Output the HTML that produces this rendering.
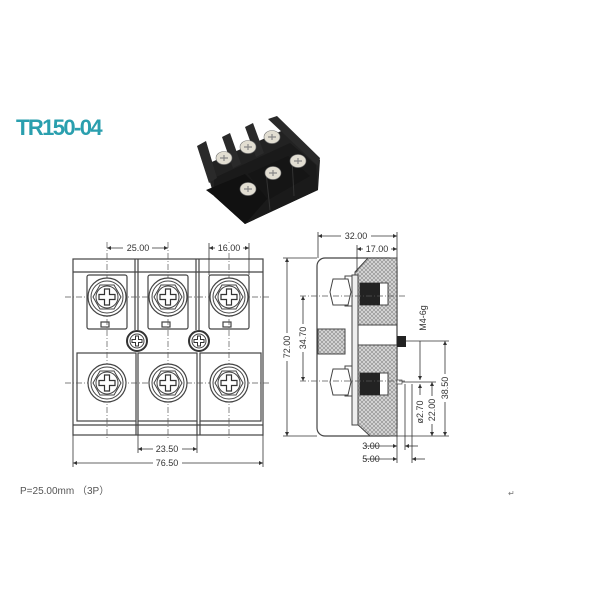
<!DOCTYPE html>
<html><head><meta charset="utf-8"><style>
html,body{margin:0;padding:0;background:#fff;width:600px;height:600px;overflow:hidden}
svg{display:block}
text{font-family:"Liberation Sans",sans-serif;fill:#333}
</style></head><body>
<svg width="600" height="600" viewBox="0 0 600 600" xmlns="http://www.w3.org/2000/svg">
<defs>
<pattern id="h" width="4" height="4" patternUnits="userSpaceOnUse">
<rect width="4" height="4" fill="#d8d8d8"/><path d="M0 0L4 4M4 0L0 4" stroke="#888" stroke-width="0.6"/>
</pattern>
<marker id="a" viewBox="0 0 6 6" refX="6" refY="3" markerWidth="5" markerHeight="5" orient="auto-start-reverse"><path d="M0 0L6 3L0 6z" fill="#333"/></marker>
<g id="scr">
<circle r="19" fill="#fff" stroke="#444" stroke-width="1.2"/>
<circle r="16" fill="none" stroke="#444" stroke-width="1"/>
<polygon points="14,0 7,12 -7,12 -14,0 -7,-12 7,-12" fill="none" stroke="#444" stroke-width="1"/>
<circle r="11" fill="none" stroke="#444" stroke-width="1"/>
<path d="M-2.5 -8h5v5.5h5.5v5h-5.5v5.5h-5v-5.5h-5.5v-5h5.5z" fill="#fff" stroke="#333" stroke-width="1.2"/>
</g>
<g id="sm">
<circle r="10" fill="#fff" stroke="#333" stroke-width="2"/>
<circle r="7" fill="none" stroke="#444" stroke-width="1"/>
<path d="M-1.5 -5h3v3.5h3.5v3h-3.5v3.5h-3v-3.5h-3.5v-3h3.5z" fill="#fff" stroke="#333" stroke-width="1"/>
</g>
<g id="ps">
<ellipse rx="8" ry="6.5" fill="#e2ded2" stroke="#777" stroke-width="0.6"/>
<path d="M-4 0h8M0 -3v6" stroke="#888" stroke-width="1.2"/>
</g>
</defs>

<text x="16" y="135" font-size="22" font-weight="bold" style="fill:#2a9fae;letter-spacing:-1.6px">TR150-04</text>

<!-- photo -->
<polygon points="205,165 288,128 320,160 318,190 245,224 214,196" fill="#222"/>
<polygon points="214,178 290,143 316,165 318,190 245,224 214,196" fill="#1a1a1a"/>
<polygon points="197,146 206,141 217,178 209,183" fill="#2a2a2a"/>
<polygon points="222,137 230,133 241,164 233,168" fill="#2a2a2a"/>
<polygon points="245,127 253,123 264,153 256,157" fill="#2a2a2a"/>
<polygon points="268,119 277,116 320,158 318,166" fill="#2a2a2a"/>
<polygon points="206,190 245,174 268,198 245,224 214,196" fill="#111"/>
<polygon points="248,174 288,156 310,176 268,200" fill="#151515"/>
<line x1="266" y1="172" x2="270" y2="210" stroke="#333" stroke-width="1"/>
<line x1="292" y1="160" x2="294" y2="196" stroke="#333" stroke-width="1"/>
<use href="#ps" x="224" y="158"/><use href="#ps" x="248" y="147"/><use href="#ps" x="272" y="137"/>
<use href="#ps" x="248" y="189"/><use href="#ps" x="273" y="173"/><use href="#ps" x="298" y="161"/>

<!-- front view -->
<g stroke="#444" stroke-width="1.2" fill="none">
<rect x="73" y="259" width="190" height="176" fill="#fff"/>
<line x1="73" y1="272" x2="263" y2="272"/>
<line x1="73" y1="425" x2="263" y2="425"/>
<line x1="135" y1="259" x2="135" y2="330"/><line x1="138" y1="259" x2="138" y2="330"/>
<line x1="196" y1="259" x2="196" y2="330"/><line x1="199" y1="259" x2="199" y2="330"/>
<rect x="87" y="275" width="40" height="54" rx="2"/>
<rect x="148" y="275" width="40" height="54" rx="2"/>
<rect x="209" y="275" width="40" height="54" rx="2"/>
<rect x="101" y="322" width="8" height="5"/><rect x="162" y="322" width="8" height="5"/><rect x="223" y="322" width="8" height="5"/>
<rect x="77" y="353" width="59" height="68"/>
<rect x="138" y="353" width="59" height="68"/>
<rect x="200" y="353" width="61" height="68"/>
<line x1="136" y1="421" x2="136" y2="435"/><line x1="138" y1="421" x2="138" y2="435"/>
<line x1="197" y1="421" x2="197" y2="435"/><line x1="200" y1="421" x2="200" y2="435"/>
</g>
<g stroke="#555" stroke-width="0.7" stroke-dasharray="6,2,1,2">
<line x1="65" y1="297" x2="270" y2="297"/><line x1="65" y1="383" x2="270" y2="383"/>
<line x1="107" y1="242" x2="107" y2="440"/><line x1="168" y1="242" x2="168" y2="440"/><line x1="229" y1="242" x2="229" y2="440"/>
</g>
<use href="#scr" x="107" y="297"/><use href="#scr" x="168" y="297"/><use href="#scr" x="229" y="297"/>
<use href="#scr" x="107" y="383"/><use href="#scr" x="168" y="383"/><use href="#scr" x="229" y="383"/>
<use href="#sm" x="137" y="341"/><use href="#sm" x="199" y="341"/>
<g stroke="#333" stroke-width="0.8" fill="none">
<line x1="107" y1="248" x2="168" y2="248" marker-start="url(#a)" marker-end="url(#a)"/>
<line x1="209" y1="243" x2="209" y2="275"/><line x1="249" y1="243" x2="249" y2="275"/>
<line x1="209" y1="248" x2="249" y2="248" marker-start="url(#a)" marker-end="url(#a)"/>
<line x1="138" y1="435" x2="138" y2="453"/><line x1="197" y1="435" x2="197" y2="453"/>
<line x1="138" y1="449" x2="197" y2="449" marker-start="url(#a)" marker-end="url(#a)"/>
<line x1="73" y1="435" x2="73" y2="467"/><line x1="263" y1="435" x2="263" y2="467"/>
<line x1="73" y1="463" x2="263" y2="463" marker-start="url(#a)" marker-end="url(#a)"/>
</g>
<g font-size="9" text-anchor="middle">
<rect x="123" y="243" width="29" height="9" fill="#fff"/><text x="138" y="251">25.00</text>
<rect x="215" y="243" width="28" height="9" fill="#fff"/><text x="229" y="251">16.00</text>
<rect x="153" y="444" width="29" height="9" fill="#fff"/><text x="167" y="452">23.50</text>
<rect x="153" y="458" width="29" height="9" fill="#fff"/><text x="167" y="466">76.50</text>
</g>

<!-- side view -->
<rect x="317" y="258" width="80" height="178" rx="8" fill="#fff" stroke="#444" stroke-width="1.2"/>
<polygon points="355,272 368,258 397,258 397,325 355,325" fill="url(#h)" stroke="#444"/>
<polygon points="355,345 397,345 397,436 370,436 355,422" fill="url(#h)" stroke="#444"/>
<rect x="318" y="329" width="27" height="25" fill="url(#h)" stroke="#444"/>
<rect x="352" y="275" width="6" height="150" fill="#eee" stroke="#444"/>
<rect x="345" y="276" width="7" height="30" fill="#fff" stroke="#444"/>
<rect x="345" y="366" width="7" height="30" fill="#fff" stroke="#444"/>
<polygon points="333,279 348,279 351,292 348,305 333,305 330,292" fill="#fff" stroke="#444"/>
<polygon points="333,369 348,369 351,382 348,395 333,395 330,382" fill="#fff" stroke="#444"/>
<rect x="360" y="283" width="28" height="22" fill="#fff" stroke="#444"/>
<rect x="360" y="283" width="20" height="22" fill="#222"/>
<rect x="360" y="373" width="28" height="22" fill="#fff" stroke="#444"/>
<rect x="360" y="373" width="20" height="22" fill="#222"/>
<rect x="397" y="336" width="9" height="11" fill="#222"/>
<rect x="397" y="380" width="5" height="4" fill="#fff" stroke="#444" stroke-width="0.7"/>
<g stroke="#555" stroke-width="0.7" stroke-dasharray="6,2,1,2">
<line x1="300" y1="296" x2="405" y2="296"/><line x1="300" y1="381" x2="405" y2="381"/>
</g>
<g stroke="#333" stroke-width="0.8" fill="none">
<line x1="318" y1="232" x2="318" y2="258"/><line x1="397" y1="232" x2="397" y2="258"/>
<line x1="318" y1="236" x2="397" y2="236" marker-start="url(#a)" marker-end="url(#a)"/>
<line x1="357" y1="245" x2="357" y2="272"/>
<line x1="357" y1="249" x2="397" y2="249" marker-start="url(#a)" marker-end="url(#a)"/>
<line x1="283" y1="258" x2="317" y2="258"/><line x1="283" y1="436" x2="317" y2="436"/>
<line x1="287" y1="258" x2="287" y2="436" marker-start="url(#a)" marker-end="url(#a)"/>
<line x1="303" y1="296" x2="303" y2="381" marker-start="url(#a)" marker-end="url(#a)"/>
<line x1="406" y1="341" x2="449" y2="341"/><line x1="397" y1="436" x2="449" y2="436"/>
<line x1="445" y1="341" x2="445" y2="436" marker-start="url(#a)" marker-end="url(#a)"/>
<line x1="402" y1="382" x2="436" y2="382"/>
<line x1="432" y1="382" x2="432" y2="436" marker-start="url(#a)" marker-end="url(#a)"/>
<line x1="420" y1="341" x2="420" y2="380" marker-end="url(#a)"/>
<line x1="420" y1="395" x2="420" y2="384" marker-end="url(#a)"/>
<line x1="397" y1="436" x2="397" y2="463"/><line x1="405" y1="384" x2="405" y2="450"/><line x1="412" y1="384" x2="412" y2="463"/>
<line x1="365" y1="446" x2="397" y2="446" marker-end="url(#a)"/><line x1="418" y1="446" x2="405" y2="446" marker-end="url(#a)"/>
<line x1="365" y1="459" x2="397" y2="459" marker-end="url(#a)"/><line x1="425" y1="459" x2="412" y2="459" marker-end="url(#a)"/>
</g>
<g font-size="9" text-anchor="middle">
<rect x="341" y="231" width="30" height="9" fill="#fff"/><text x="356" y="239">32.00</text>
<rect x="363" y="244" width="28" height="9" fill="#fff"/><text x="377" y="252">17.00</text>
<text x="371" y="449">3.00</text>
<text x="371" y="462">5.00</text>
<g transform="translate(290,347) rotate(-90)"><rect x="-14" y="-9" width="28" height="10" fill="#fff"/><text x="0" y="0">72.00</text></g>
<g transform="translate(306,338) rotate(-90)"><rect x="-14" y="-9" width="28" height="10" fill="#fff"/><text x="0" y="0">34.70</text></g>
<g transform="translate(448,388) rotate(-90)"><rect x="-14" y="-9" width="28" height="10" fill="#fff"/><text x="0" y="0">38.50</text></g>
<g transform="translate(435,410) rotate(-90)"><rect x="-14" y="-9" width="28" height="10" fill="#fff"/><text x="0" y="0">22.00</text></g>
<g transform="translate(423,412) rotate(-90)"><text x="0" y="0">ø2.70</text></g>
<g transform="translate(426,318) rotate(-90)"><text x="0" y="0">M4-6g</text></g>
</g>

<text x="20" y="494" font-size="10" style="fill:#555">P=25.00mm （3P）</text>
<text x="508" y="496" font-size="8" style="fill:#777">↵</text>
</svg>
</body></html>
